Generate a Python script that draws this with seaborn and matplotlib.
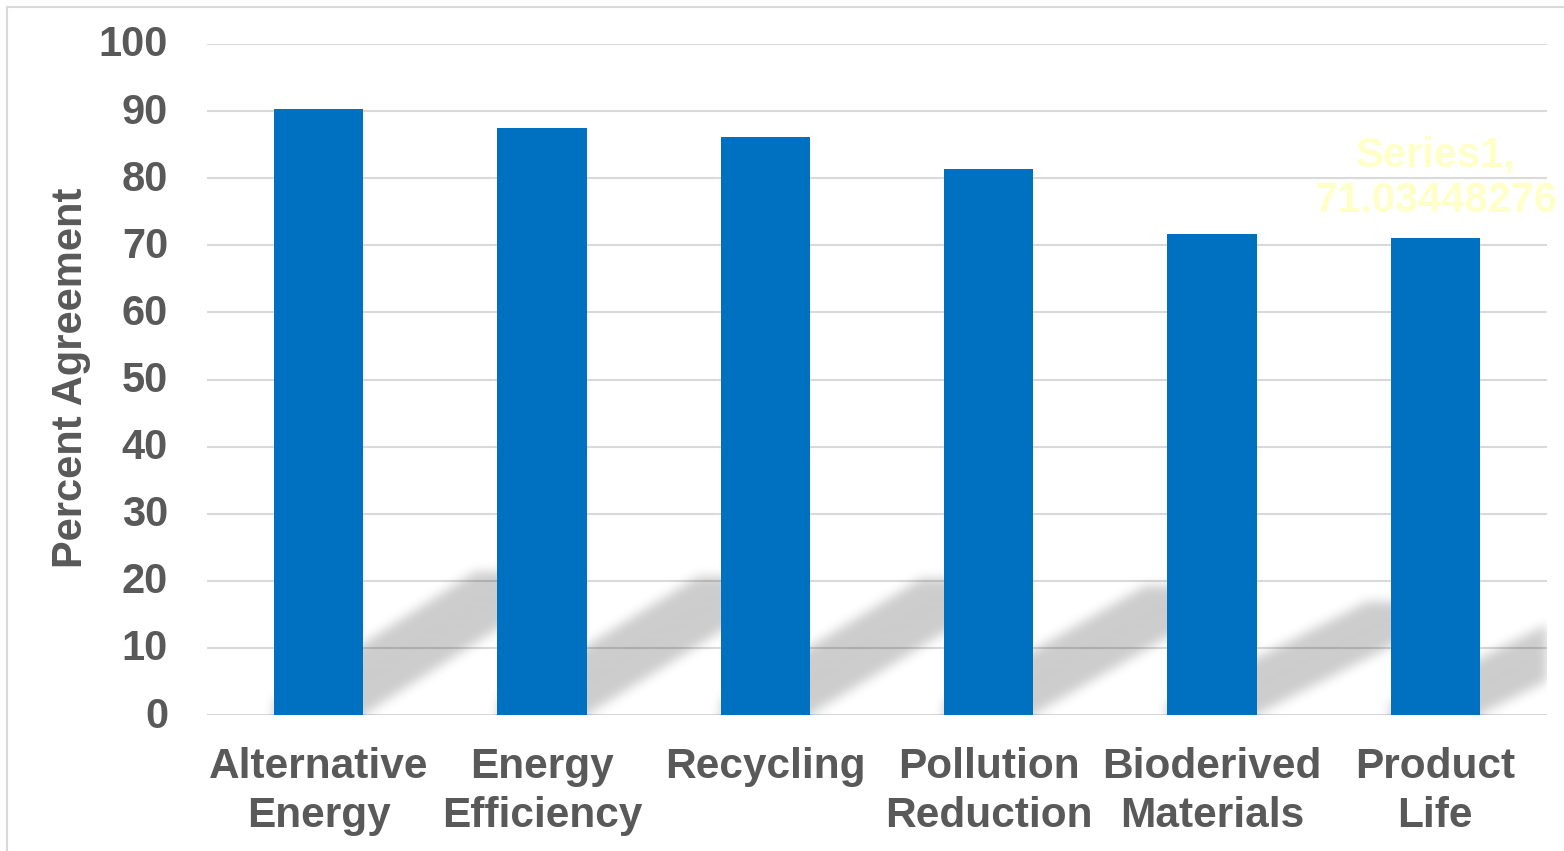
import numpy as np
import matplotlib
matplotlib.use("Agg")
import matplotlib.pyplot as plt
import matplotlib.transforms as mtransforms
import seaborn as sns
from matplotlib.lines import Line2D

categories = ["Alternative\nEnergy", "Energy\nEfficiency", "Recycling",
              "Pollution\nReduction", "Bioderived\nMaterials", "Product\nLife"]
values = [90.3, 87.5, 86.1, 81.3, 71.7, 71.03448276]
y_ticks = list(range(0, 101, 10))
annotation = "Series1,\n71.03448276"

sns.set_theme(style="white")
plt.rcParams["font.family"] = ["Liberation Sans", "DejaVu Sans"]

W, H = 1564, 851
fig = plt.figure(figsize=(W / 100, H / 100), dpi=100)
fig.patch.set_facecolor("white")
ax = fig.add_axes([207 / W, 1 - 715 / H, 1340 / W, 671 / H])

text_col = "#595959"
bar_col = "#0070C0"

sns.barplot(x=categories, y=values, color=bar_col, width=0.4, saturation=1,
            edgecolor="none", zorder=3, ax=ax)

# soft skewed shadow derived from the bars
nx, ny = 1340, 740
xs = np.linspace(-0.5, 5.5, nx)
ys = np.linspace(-10, 100, ny)
X, Y = np.meshgrid(xs, ys)
mask = np.zeros_like(X)
half = 0.2
skew = 1.0
extra = 0.1
for i, h in enumerate(values):
    hs = 0.236 * h
    t = np.where(Y > 0, Y / hs, 0.0)
    xl = i - half - extra + skew * t
    inside = (Y <= hs) & (X >= xl) & (X <= i + half + skew * t) & (X >= i - half)
    mask[inside] = 1.0

def blur(a, sigma):
    r = int(3 * sigma)
    k = np.exp(-0.5 * (np.arange(-r, r + 1) / sigma) ** 2)
    k /= k.sum()
    a = np.apply_along_axis(lambda v: np.convolve(v, k, mode="same"), 1, a)
    a = np.apply_along_axis(lambda v: np.convolve(v, k, mode="same"), 0, a)
    return a

soft = blur(mask, 5.5)
rgba = np.zeros((ny, nx, 4))
rgba[..., 3] = 0.2 * soft
ax.imshow(rgba, extent=(-0.5, 5.5, -10, 100), origin="lower", aspect="auto",
          zorder=1, interpolation="bilinear")

ax.set_xlim(-0.5, 5.5)
ax.set_ylim(0, 100)
ax.set_yticks(y_ticks)
ax.yaxis.grid(True, color="#d9d9d9", lw=1.5)
ax.xaxis.grid(False)
ax.set_axisbelow(True)
for s in ax.spines.values():
    s.set_visible(False)

ax.tick_params(axis="y", length=0, pad=28, labelsize=30, labelcolor=text_col)
ax.tick_params(axis="x", length=0, pad=23, labelsize=30.5, labelcolor=text_col)
for lbl in ax.get_yticklabels() + ax.get_xticklabels():
    lbl.set_fontweight("bold")
for lbl in ax.get_xticklabels():
    lbl.set_linespacing(1.3)

up = mtransforms.ScaledTranslation(0, 3 / 100, fig.dpi_scale_trans)
for tk in ax.yaxis.get_major_ticks():
    tk.label1.set_transform(tk.label1.get_transform() + up)

ax.set_xlabel("")
ax.set_ylabel("Percent Agreement", fontsize=30, fontweight="bold", color=text_col)
ax.yaxis.set_label_coords(-0.0866, 0.502)

ax.text(5, 80, annotation, ha="center", va="center", fontsize=30,
        fontweight="bold", color="#FFFFC8", linespacing=1.2, zorder=4)

# chart-area frame (partially visible)
fig.add_artist(Line2D([7 / W, 7 / W], [0, 1 - 7 / H], transform=fig.transFigure,
                      color="#d9d9d9", lw=1.5))
fig.add_artist(Line2D([7 / W, 1], [1 - 7 / H, 1 - 7 / H], transform=fig.transFigure,
                      color="#d9d9d9", lw=1.5))

fig.savefig("out.png", dpi=100, facecolor="white")
